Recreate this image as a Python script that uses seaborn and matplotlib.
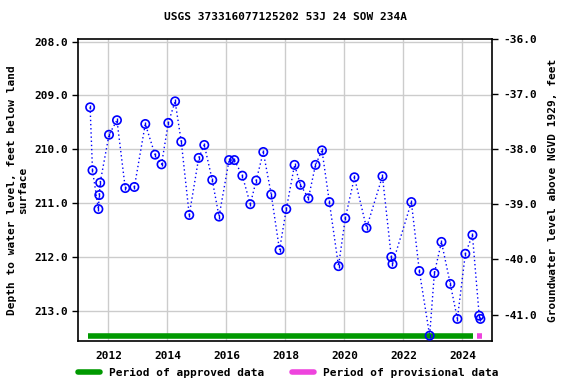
import numpy as np
import pandas as pd
import seaborn as sns
import matplotlib
matplotlib.use("Agg")
import matplotlib.pyplot as plt
from matplotlib.lines import Line2D

# =====================================================
# data (decimal years, depth below land surface in feet)
# =====================================================

years = [
    2011.38, 2011.46, 2011.66, 2011.69, 2011.72, 2012.02, 2012.29, 2012.57,
    2012.88, 2013.25, 2013.58, 2013.80, 2014.03, 2014.26, 2014.47, 2014.74,
    2015.06, 2015.25, 2015.52, 2015.75, 2016.09, 2016.27, 2016.54, 2016.81,
    2017.01, 2017.25, 2017.52, 2017.80, 2018.03, 2018.31, 2018.51, 2018.78,
    2019.02, 2019.24, 2019.49, 2019.80, 2020.03, 2020.34, 2020.75, 2021.29,
    2021.59, 2021.63, 2022.27, 2022.54, 2022.89, 2023.05, 2023.29, 2023.59,
    2023.83, 2024.10, 2024.34, 2024.57, 2024.61,
]

depth = [
    209.22, 210.39, 211.11, 210.85, 210.62, 209.73, 209.46, 210.72,
    210.70, 209.53, 210.10, 210.28, 209.51, 209.11, 209.86, 211.22,
    210.16, 209.92, 210.57, 211.25, 210.20, 210.20, 210.49, 211.02,
    210.58, 210.05, 210.84, 211.87, 211.11, 210.29, 210.66, 210.91,
    210.29, 210.02, 210.98, 212.17, 211.28, 210.52, 211.46, 210.50,
    212.00, 212.13, 210.98, 212.26, 213.46, 212.30, 211.72, 212.50,
    213.15, 211.94, 211.59, 213.09, 213.15,
]

approved_period = [2011.30, 2024.37]
provisional_period = [2024.49, 2024.66]

xticks = [2012, 2014, 2016, 2018, 2020, 2022, 2024]
left_ticks = [208.0, 209.0, 210.0, 211.0, 212.0, 213.0]
right_ticks = [-36.0, -37.0, -38.0, -39.0, -40.0, -41.0]

df = pd.DataFrame({"year": years, "depth": depth})

# =====================================================
# style
# =====================================================

sns.set_style("white")
plt.rcParams["font.family"] = ["DejaVu Sans Mono"]
plt.rcParams["font.weight"] = "bold"
plt.rcParams["font.size"] = 8
plt.rcParams["text.color"] = "black"
plt.rcParams["axes.labelcolor"] = "black"
plt.rcParams["xtick.color"] = "black"
plt.rcParams["ytick.color"] = "black"

fig = plt.figure(figsize=(5.76, 3.84), dpi=100)
ax = fig.add_axes([0.136, 0.112, 0.719, 0.786])

# =====================================================
# plot
# =====================================================

sns.lineplot(
    data=df, x="year", y="depth", ax=ax,
    color="blue", linestyle=(0, (1, 2)), linewidth=1.0, sort=False
)

sns.scatterplot(
    data=df, x="year", y="depth", ax=ax,
    marker="o", s=36, facecolor="none", edgecolor="blue", linewidth=1.2,
    zorder=3
)
sns.scatterplot(
    data=df, x="year", y="depth", ax=ax,
    marker="|", s=6, color="blue", linewidth=1.0, zorder=4
)

bar_y = 213.47
ax.plot(approved_period, [bar_y, bar_y], color="#009900", linewidth=4,
        solid_capstyle="butt")
ax.plot(provisional_period, [bar_y, bar_y], color="#ee44dd", linewidth=4,
        solid_capstyle="butt")

ax.set_xlim(2010.98, 2025.02)
ax.set_ylim(213.56, 207.955)
ax.set_xticks(xticks)
ax.set_xticklabels([str(t) for t in xticks])
ax.set_yticks(left_ticks)
ax.set_yticklabels([f"{t:.1f}" for t in left_ticks])
ax.grid(True, color="#cccccc", linewidth=1)
ax.set_axisbelow(True)

ax.set_xlabel("")
ax.set_ylabel("Depth to water level, feet below land\nsurface", fontsize=8,
              fontweight="bold")
ax.set_title("USGS 373316077125202 53J 24 SOW 234A", fontsize=8,
             fontweight="bold", pad=14)

for s in ax.spines.values():
    s.set_color("black")
    s.set_linewidth(1.2)
ax.tick_params(direction="out", length=4, width=1, colors="black",
               labelsize=8)

ax2 = ax.twinx()
ax2.set_ylim(-41.48, -36.0)
ax2.set_yticks(right_ticks)
ax2.set_yticklabels([f"{t:.1f}" for t in right_ticks])
ax2.set_ylabel("Groundwater level above NGVD 1929, feet", fontsize=8,
               fontweight="bold", labelpad=8)
ax2.tick_params(direction="out", length=4, width=1, colors="black",
                labelsize=8)
for s in ax2.spines.values():
    s.set_visible(False)

handles = [
    Line2D([0], [0], color="#009900", linewidth=4),
    Line2D([0], [0], color="#ee44dd", linewidth=4),
]
fig.legend(
    handles, ["Period of approved data", "Period of provisional data"],
    loc="lower center", bbox_to_anchor=(0.5, -0.01), ncol=2, frameon=False,
    handlelength=2.0, columnspacing=2.5, fontsize=8
)

fig.savefig("out.png", dpi=100)
